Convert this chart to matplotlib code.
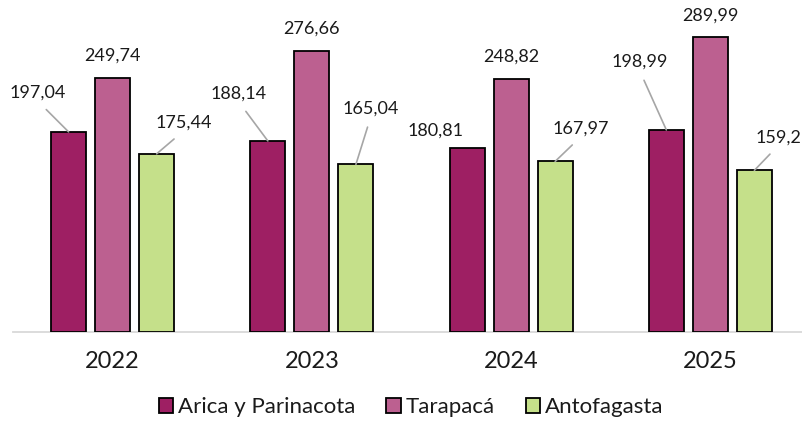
import numpy as np
import matplotlib.pyplot as plt

years = ['2022', '2023', '2024', '2025']
series = ['Arica y Parinacota', 'Tarapacá', 'Antofagasta']
arica = [197.04, 188.14, 180.81, 198.99]
tarapaca = [249.74, 276.66, 248.82, 289.99]
antofagasta = [175.44, 165.04, 167.97, 159.2]
labels = [['197,04', '188,14', '180,81', '198,99'],
          ['249,74', '276,66', '248,82', '289,99'],
          ['175,44', '165,04', '167,97', '159,2']]

colors = ['#9E1F63', '#BC6090', '#C5E08A']

# label offsets from bar top (pixels, up is positive) and leader lines
offsets = [[(-31, 39), (-29, 47), (-32, 18), (-27, 68)],
           [(0, 23), (0, 22), (0, 23), (0, 22)],
           [(27, 31), (15, 56), (26, 33), (24, 33)]]
leaders = [[True, True, False, True],
           [False, False, False, False],
           [True, True, True, True]]

plt.rcParams['font.family'] = ['Lato', 'DejaVu Sans']

fig = plt.figure(figsize=(8.03, 4.22), dpi=100)
ax = fig.add_axes([13 / 803, 90 / 422, 797 / 803, 326 / 422])

x = np.arange(len(years))
width = 0.176
pitch = 0.221
data = [arica, tarapaca, antofagasta]
for i, vals in enumerate(data):
    xs = x + (i - 1) * pitch
    ax.bar(xs, vals, width, color=colors[i], edgecolor='black',
           linewidth=1.3, label=series[i], zorder=3)
    for j, v in enumerate(vals):
        dx, dy = offsets[i][j]
        arrow = None
        if leaders[i][j]:
            arrow = dict(arrowstyle='-', color='#A6A6A6', lw=1.2,
                         relpos=(0.5, 0), shrinkA=6, shrinkB=0)
        ax.annotate(labels[i][j], (xs[j], v), xytext=(dx, dy),
                    textcoords='offset pixels', ha='center', va='center',
                    fontsize=13, color='#1A1A1A', arrowprops=arrow,
                    annotation_clip=False)

ax.set_xlim(-0.5, 3.5)
ax.set_ylim(0, 321)
ax.set_xticks(x)
ax.set_xticklabels(years, fontsize=17, color='#1A1A1A')
ax.tick_params(axis='x', length=0, pad=14)
ax.set_yticks([])
for s in ['top', 'right', 'left']:
    ax.spines[s].set_visible(False)
ax.spines['bottom'].set_color('#D9D9D9')
ax.spines['bottom'].set_linewidth(1.3)

fig.legend(loc='center', bbox_to_anchor=(411 / 803, 1 - 407 / 422),
           ncol=3, frameon=False, fontsize=16, handlelength=0.65,
           handleheight=0.65, handletextpad=0.2, columnspacing=1.4,
           labelcolor='#1A1A1A')

plt.savefig('out.png', dpi=100)
